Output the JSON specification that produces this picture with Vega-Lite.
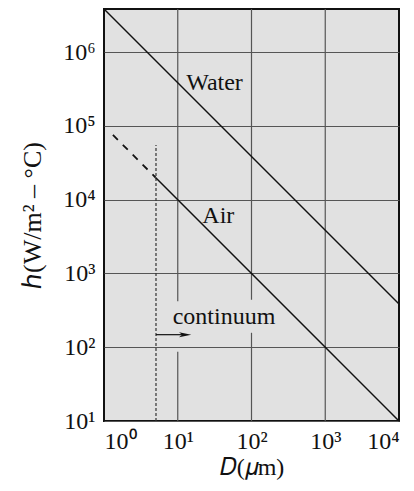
{
  "$schema": "https://vega.github.io/schema/vega-lite/v6.json",
  "width": 295,
  "height": 412,
  "autosize": {"type": "none"},
  "padding": {"left": 104, "top": 9, "right": 15, "bottom": 70},
  "config": {
    "font": "Liberation Serif",
    "view": {"fill": "#e1e1e1", "stroke": "#111111", "strokeWidth": 2},
    "axis": {
      "domain": false,
      "ticks": false,
      "labelFont": "Liberation Serif",
      "labelFontSize": 24,
      "labelColor": "#111111",
      "titleFont": "Liberation Serif",
      "titleFontSize": 24,
      "titleFontWeight": "normal",
      "titleColor": "#111111"
    }
  },
  "datasets": {
    "lines": [
      {"fluid": "Water", "part": "solid", "D": 1, "h": 3850000},
      {"fluid": "Water", "part": "solid", "D": 10000, "h": 385},
      {"fluid": "Air", "part": "solid", "D": 5, "h": 20000},
      {"fluid": "Air", "part": "solid", "D": 10000, "h": 10},
      {"fluid": "Air", "part": "dashed", "D": 1.32, "h": 75700},
      {"fluid": "Air", "part": "dashed", "D": 5, "h": 20000}
    ],
    "vgrid": [
      {"D": 10, "h1": 10, "h2": 87},
      {"D": 10, "h1": 420, "h2": 3850000},
      {"D": 100, "h1": 10, "h2": 157},
      {"D": 100, "h1": 440, "h2": 3850000},
      {"D": 1000, "h1": 10, "h2": 3850000}
    ],
    "limit": [{"D": 5.07, "h1": 10, "h2": 55000}],
    "arrow": [{"D1": 5.07, "D2": 12.6, "h": 148}],
    "labels": [
      {"label": "Water", "D": 31.5, "h": 304000},
      {"label": "Air", "D": 35.5, "h": 4900},
      {"label": "continuum", "D": 42.4, "h": 207}
    ]
  },
  "layer": [
    {
      "data": {"name": "vgrid"},
      "mark": {"type": "rule", "color": "#555555", "strokeWidth": 1.2},
      "encoding": {
        "x": {
          "field": "D", "type": "quantitative",
          "scale": {"type": "log", "domain": [1, 10000], "nice": false},
          "axis": {
            "values": [1, 10, 100, 1000, 10000],
            "grid": false,
            "labelPadding": 8,
            "labelExpr": "'10' + ['⁰','¹','²','³','⁴','⁵','⁶'][round(log(datum.value)/LN10)]",
            "title": "𝐷(𝜇m)",
            "titlePadding": 2
          }
        },
        "y": {
          "field": "h1", "type": "quantitative",
          "scale": {"type": "log", "domain": [10, 3850000], "nice": false},
          "axis": {
            "values": [10, 100, 1000, 10000, 100000, 1000000],
            "grid": true,
            "gridColor": "#555555",
            "gridWidth": 1.2,
            "gridOpacity": 1,
            "labelPadding": 9,
            "labelExpr": "'10' + ['⁰','¹','²','³','⁴','⁵','⁶'][round(log(datum.value)/LN10)]",
            "title": "ℎ(W/m² – °C)",
            "titleFontSize": 26,
            "titlePadding": 17
          }
        },
        "y2": {"field": "h2"}
      }
    },
    {
      "data": {"name": "limit"},
      "mark": {"type": "rule", "color": "#333333", "strokeWidth": 1.2, "strokeDash": [3, 2]},
      "encoding": {
        "x": {"field": "D", "type": "quantitative"},
        "y": {"field": "h1", "type": "quantitative"},
        "y2": {"field": "h2"}
      }
    },
    {
      "data": {"name": "lines"},
      "transform": [{"filter": "datum.part == 'solid'"}],
      "mark": {"type": "line", "color": "#111111", "strokeWidth": 1.5},
      "encoding": {
        "x": {"field": "D", "type": "quantitative"},
        "y": {"field": "h", "type": "quantitative"},
        "detail": {"field": "fluid"}
      }
    },
    {
      "data": {"name": "lines"},
      "transform": [{"filter": "datum.part == 'dashed'"}],
      "mark": {"type": "line", "color": "#111111", "strokeWidth": 1.8, "strokeDash": [7, 7]},
      "encoding": {
        "x": {"field": "D", "type": "quantitative"},
        "y": {"field": "h", "type": "quantitative"}
      }
    },
    {
      "data": {"name": "arrow"},
      "mark": {"type": "rule", "color": "#111111", "strokeWidth": 1.2},
      "encoding": {
        "x": {"field": "D1", "type": "quantitative"},
        "x2": {"field": "D2"},
        "y": {"field": "h", "type": "quantitative"}
      }
    },
    {
      "data": {"name": "arrow"},
      "mark": {"type": "point", "shape": "M-1,-0.4L1,0L-1,0.4L-0.5,0Z", "filled": true, "color": "#111111", "size": 150, "opacity": 1},
      "encoding": {
        "x": {"field": "D2", "type": "quantitative"},
        "y": {"field": "h", "type": "quantitative"}
      }
    },
    {
      "data": {"name": "labels"},
      "mark": {"type": "text", "font": "Liberation Serif", "fontSize": 24, "color": "#111111", "align": "center", "baseline": "alphabetic"},
      "encoding": {
        "x": {"field": "D", "type": "quantitative"},
        "y": {"field": "h", "type": "quantitative"},
        "text": {"field": "label"}
      }
    }
  ]
}
